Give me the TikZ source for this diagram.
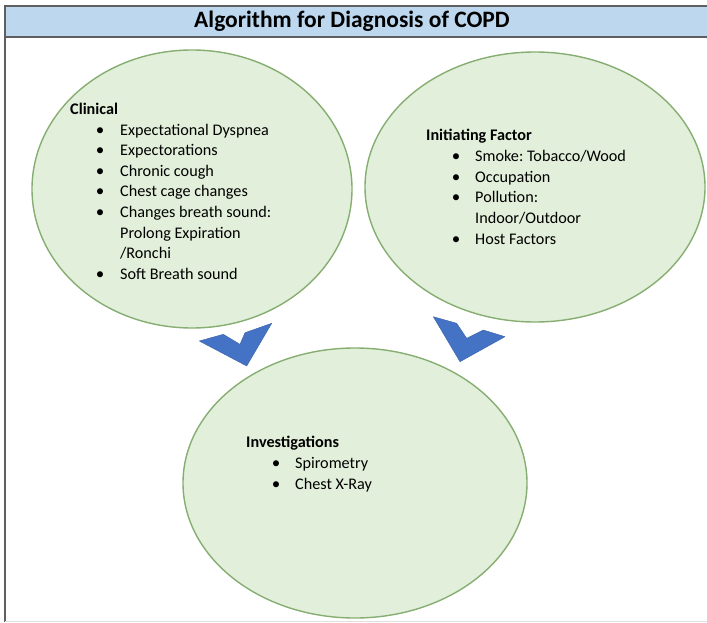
\documentclass[tikz,border=0pt]{standalone}
\usepackage{fontspec}
\setmainfont{Carlito}
\frenchspacing
\definecolor{hdrfill}{HTML}{BDD7EE}
\definecolor{hdrline}{HTML}{5F5F5F}
\definecolor{ellfill}{HTML}{E2EFDA}
\definecolor{elldraw}{HTML}{86AE72}
\definecolor{chev}{HTML}{4472C4}
\begin{document}
\begin{tikzpicture}[x=1pt,y=-1pt,
  bubble/.style={draw=elldraw,line width=1.4pt,fill=ellfill},
  chevron/.style={fill=chev,draw=chev!85!black,line width=0.4pt,line join=round},
  txt/.style={anchor=base west,inner sep=0pt,font=\fontsize{16.2}{19}\selectfont\frenchspacing},
  head/.style={txt,font=\fontsize{16.2}{19}\selectfont\bfseries},
  bul/.style={anchor=base,inner sep=0pt,font=\fontsize{17}{19}\selectfont}]
\useasboundingbox (0,0) rectangle (707,623);
% frame
\fill[hdrfill] (5,6) rectangle (707,37);
\draw[hdrline,line width=1.3pt] (707,6) -- (5,6) -- (5,622);
\draw[hdrline,line width=1.3pt] (5,37) -- (707,37);
\draw[black!12,line width=0.8pt] (5,621.5) -- (707,621.5);
\node[inner sep=0pt,font=\fontsize{23.5}{26}\selectfont\bfseries] (title) at (352,21.5) {Algorithm for Diagnosis of COPD};
% ellipses
\draw[bubble] (192,189) ellipse [x radius=160, y radius=139];
\draw[bubble] (535,187) ellipse [x radius=170, y radius=135];
\draw[bubble] (355,483) ellipse [x radius=172, y radius=135];
% chevrons
\draw[chevron] (199.3,341) -- (223.3,334.3) -- (240,344.3) -- (245,332.7) -- (271.7,323.3) -- (246.7,366) -- cycle;
\draw[chevron] (433.3,316.7) -- (456.7,323.3) -- (466.7,338.3) -- (483.3,330) -- (505,336.7) -- (460,361.7) -- cycle;
% Clinical
\node[head] (clin) at (70,114.5) {Clinical};
\foreach \t [count=\i] in {Expectational Dyspnea,Expectorations,Chronic cough,Chest cage changes,Changes breath sound:,Prolong Expiration,/Ronchi,Soft Breath sound}
  \node[txt] (clin\i) at (120,114.5+\i*20.6) {\t};
\foreach \i in {1,2,3,4,5,8}
  \node[bul] (clinb\i) at (100,114.5+\i*20.6) {•};
% Initiating
\node[head] (init) at (426,140.7) {Initiating Factor};
\foreach \t [count=\i] in {Smoke: Tobacco/Wood,Occupation,Pollution:,Indoor/Outdoor,Host Factors}
  \node[txt] (init\i) at (475,140.7+\i*20.7) {\t};
\foreach \i in {1,2,3,5}
  \node[bul] (initb\i) at (456,140.7+\i*20.7) {•};
% Investigations
\node[head] (inv) at (246,447.7) {Investigations};
\foreach \t [count=\i] in {Spirometry,Chest X-Ray}
  \node[txt] (inv\i) at (295,447.7+\i*21.1) {\t};
\foreach \i in {1,2}
  \node[bul] (invb\i) at (276,447.7+\i*21.1) {•};
\end{tikzpicture}
\end{document}
